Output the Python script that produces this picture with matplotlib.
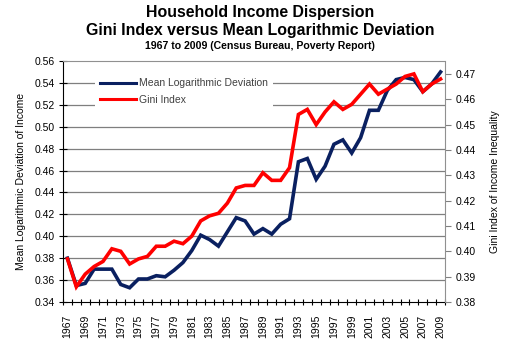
import numpy as np
import matplotlib
matplotlib.use("Agg")
import matplotlib.pyplot as plt
from matplotlib.ticker import FixedLocator, NullFormatter, FixedFormatter

plt.rcParams['font.family'] = ['Liberation Sans', 'DejaVu Sans']

years = list(range(1967, 2010))
mld = [0.380, 0.355, 0.357, 0.370, 0.370, 0.370, 0.356, 0.353, 0.361, 0.361,
       0.364, 0.363, 0.369, 0.376, 0.387, 0.401, 0.397, 0.391, 0.404, 0.417,
       0.414, 0.402, 0.407, 0.402, 0.411, 0.416, 0.468, 0.471, 0.452, 0.464,
       0.484, 0.488, 0.476, 0.490, 0.515, 0.515, 0.533, 0.543, 0.545, 0.543,
       0.532, 0.539, 0.550]
gini = [0.397, 0.386, 0.391, 0.394, 0.396, 0.401, 0.400, 0.395, 0.397, 0.398,
        0.402, 0.402, 0.404, 0.403, 0.406, 0.412, 0.414, 0.415, 0.419, 0.425,
        0.426, 0.426, 0.431, 0.428, 0.428, 0.433, 0.454, 0.456, 0.450, 0.455,
        0.459, 0.456, 0.458, 0.462, 0.466, 0.462, 0.464, 0.466, 0.469, 0.470,
        0.463, 0.466, 0.468]
left_ticks = [0.34, 0.36, 0.38, 0.40, 0.42, 0.44, 0.46, 0.48, 0.50, 0.52, 0.54, 0.56]
right_ticks = [0.38, 0.39, 0.40, 0.41, 0.42, 0.43, 0.44, 0.45, 0.46, 0.47]

W, H = 508, 357
fig = plt.figure(figsize=(W / 100, H / 100), dpi=100)
L, R, T, B = 63, 445, 61, 302
ax = fig.add_axes([L / W, 1 - B / H, (R - L) / W, (B - T) / H])
ax2 = ax.twinx()

x = np.arange(len(years))
blue = '#0a2060'
red = '#ff0000'
l1, = ax.plot(x, mld, color=blue, lw=2.6, solid_joinstyle='miter', zorder=3)
l2, = ax2.plot(x, gini, color=red, lw=2.6, solid_joinstyle='miter', zorder=3)

ax.set_xlim(-0.5, len(years) - 0.5)
ax.set_ylim(0.34, 0.56)
ax2.set_ylim(0.38, 0.4751)

ax.set_yticks(left_ticks)
ax.set_yticklabels([f"{v:.2f}" for v in left_ticks], fontsize=7.5)
ax2.set_yticks(right_ticks)
ax2.set_yticklabels([f"{v:.2f}" for v in right_ticks], fontsize=7.5)

# gridlines
for v in left_ticks[1:-1]:
    ax.axhline(v, color='#7f7f7f', lw=0.9, zorder=1)

# x ticks: boundaries as major ticks, labels every other year as minor
ax.xaxis.set_major_locator(FixedLocator(np.arange(-0.5, len(years), 1.0)))
ax.xaxis.set_major_formatter(NullFormatter())
lab_idx = x[::2]
ax.xaxis.set_minor_locator(FixedLocator(lab_idx))
ax.xaxis.set_minor_formatter(FixedFormatter([str(years[i]) for i in lab_idx]))
ax.tick_params(axis='x', which='major', direction='inout', length=5, width=0.8)
ax.tick_params(axis='x', which='minor', length=0, labelsize=7.5, labelrotation=90, pad=9)
ax.tick_params(axis='y', direction='inout', length=6, width=0.8, pad=3)
ax2.tick_params(axis='y', direction='out', length=4, width=0.8, color='#808080', pad=4)

for s in ['top', 'right']:
    ax.spines[s].set_visible(False)
for s in ['left', 'bottom']:
    ax2.spines[s].set_visible(False)
ax2.spines['top'].set_color('#909090')
ax2.spines['top'].set_linestyle((0, (1, 1)))
ax2.spines['right'].set_color('#909090')
ax2.spines['right'].set_linestyle((0, (1, 1)))
ax.spines['left'].set_color('black')
ax.spines['bottom'].set_color('black')

ax.set_ylabel('Mean Logarithmic Deviation of Income', fontsize=7.5, labelpad=6)
ax2.set_ylabel('Gini Index of Income Inequality', fontsize=7.5, labelpad=10)

leg = ax2.legend([l1, l2], ['Mean Logarithmic Deviation', 'Gini Index'],
                 loc='upper left', bbox_to_anchor=(90 / W, 1 - 68 / H),
                 bbox_transform=fig.transFigure, fontsize=7.5, frameon=True,
                 handlelength=3.4, handletextpad=0.3, labelspacing=0.6,
                 borderpad=0.5)
leg.get_frame().set_facecolor('white')
leg.get_frame().set_edgecolor('none')
leg.get_frame().set_alpha(1)
for t in leg.get_texts():
    t.set_color('#404040')
for h in leg.legend_handles:
    h.set_linewidth(2.2)

cx = 260 / W
fig.text(cx, 1 - 12 / H, 'Household Income Dispersion', ha='center', va='center',
         fontsize=11.4, fontweight='bold')
fig.text(cx, 1 - 30 / H, 'Gini Index versus Mean Logarithmic Deviation', ha='center',
         va='center', fontsize=11.4, fontweight='bold')
fig.text(cx, 1 - 46 / H, '1967 to 2009 (Census Bureau, Poverty Report)', ha='center',
         va='center', fontsize=7.6, fontweight='bold')

fig.savefig('out.png', dpi=100)
